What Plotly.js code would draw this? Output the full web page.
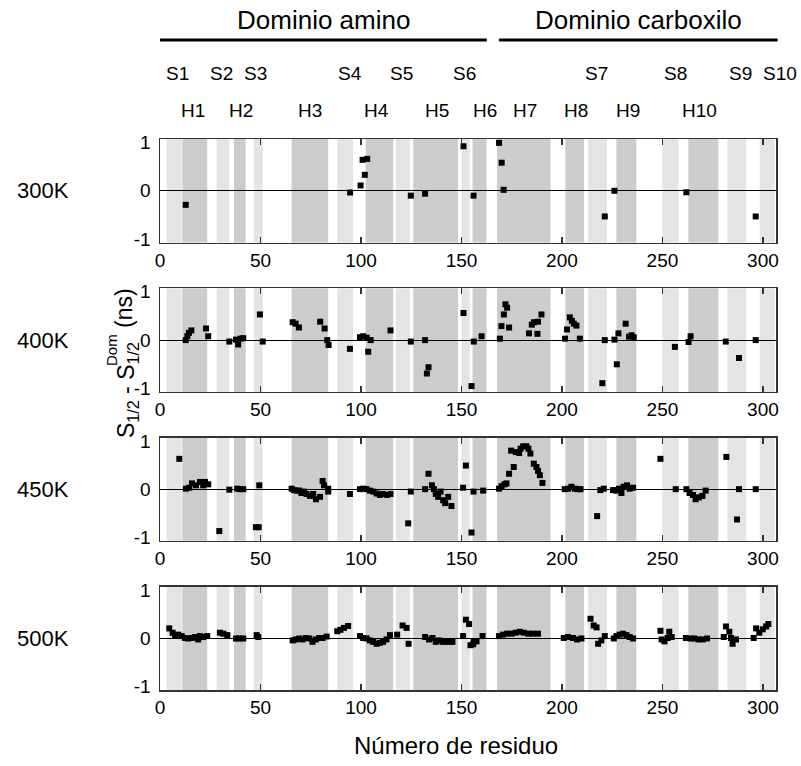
<!DOCTYPE html>
<html>
<head>
<meta charset="utf-8">
<script src="https://cdn.plot.ly/plotly-3.0.1.min.js"></script>
<style>html,body{margin:0;padding:0;background:#fff;}#chart{width:801px;height:766px;}</style>
</head>
<body>
<div id="chart"></div>
<script>
// ---- data ----
const temps = ['300K', '400K', '450K', '500K'];

const x300 = [12.8, 94.6, 99.8, 100.8, 101.9, 103.1, 124.8, 131.9, 151, 156, 168.7, 170, 171, 221.3, 226.1, 261.9, 296.4];
const y300 = [-0.29, -0.035, 0.11, 0.64, 0.33, 0.66, -0.10, -0.06, 0.92, -0.10, 0.99, 0.58, 0.02, -0.53, 0.0, -0.03, -0.53];

const x400 = [12.8,13.6,14.4,15.6,22.9,24,34.5,37.8,38.9,40.1,41.4,49.7,51.1,66,67.5,69.1,79.7,81.9,83.2,83.9,94.5,99.5,101.1,102.8,104.8,103.6,114.7,124.8,131.9,133.6,132.8,151,155,156.1,160,169.1,169.9,171.1,171.9,172.7,173.7,183.6,185,186.1,187.8,188.1,189.8,201.5,202.5,203.9,204.9,205.9,207.2,208.9,220.1,221.3,226.1,227.3,228.1,231.7,233.4,234.6,235.7,256.2,263,264,281.5,288.1,296.4];
const y400 = [0,0.08,0.15,0.2,0.24,0.08,-0.03,0.01,-0.09,0.03,0.04,0.53,-0.03,0.37,0.34,0.26,0.38,0.24,0,-0.1,-0.18,0.06,0.08,0.05,0,-0.24,0.2,-0.03,0,-0.56,-0.69,0.56,-0.95,-0.03,0.08,0.03,0.29,0.53,0.74,0.67,0.26,0.14,0.32,0.37,0.13,0.38,0.53,0.03,0.22,0.47,0.4,0.34,0.3,0.03,-0.89,0,0.01,-0.5,0.14,0.34,0.07,0.1,0.06,-0.14,-0.04,0.08,-0.03,-0.37,0];

const x450 = [9.6,12.9,14.6,15.9,17.9,19.9,21.5,22.4,24,29.5,34.5,38.4,39.8,41.4,49.4,47.7,49.1,65.5,66.6,68,69.3,70.4,71.6,72.9,74.6,76.2,77.6,79.6,80.9,81.6,83.7,83.7,94.5,99.5,101.1,102.8,104.4,106.1,107.8,109.4,111,113,114.7,123.5,124.8,131.9,133.6,135.3,136.3,137.2,138.4,139.6,140.9,141.9,143.4,145,150.8,152.2,155,156,160.8,168.7,170,171.4,172.4,173.7,174.7,176,177,178.7,179.4,180.7,182.3,183.3,184.3,186,187.3,188.1,189,190.3,201.4,203,204.7,206.4,208,209.2,217.5,219.1,220.8,225.4,227.1,228.4,229.6,230.7,232.4,233.7,235.4,249,256.6,261.9,263.5,265.2,266.5,268.2,269.9,271.5,281.8,287.1,288.1,296.4];
const y450 = [0.63,0.01,0.03,0.12,0.08,0.15,0.08,0.15,0.1,-0.87,-0.01,0.01,0,0,0.08,-0.79,-0.79,0.01,-0.02,-0.03,-0.03,-0.08,-0.05,-0.1,-0.14,-0.1,-0.21,-0.16,0.17,0.08,0.01,-0.05,-0.1,0,0.01,0,-0.03,-0.05,-0.09,-0.12,-0.1,-0.12,-0.1,-0.71,-0.05,0,0.32,0.08,0,-0.1,-0.16,-0.05,-0.23,-0.29,-0.16,-0.35,0.03,0.49,-0.9,-0.05,-0.03,0.01,0.06,0.1,0.12,0.32,0.8,0.46,0.77,0.75,0.84,0.89,0.89,0.84,0.74,0.53,0.46,0.38,0.29,0.13,0,0.01,0.05,0.01,0,0,-0.56,-0.02,0.01,-0.02,-0.03,0.01,-0.08,0.05,0.08,0.01,0.03,0.63,0,0,-0.08,-0.12,-0.21,-0.17,-0.14,-0.03,0.67,-0.63,0,0];

const x500 = [4.6,6.3,7.5,9.1,10.8,12.4,14.1,15.8,17.4,19,19.9,21.5,23.5,29.8,31.5,33.5,37.8,39.4,41.4,48.1,48.9,66,67.6,69.3,70.9,72.6,74.3,75.9,77.6,79.2,80.9,82.9,88.2,89.8,91.5,93.6,99.5,101.1,102.8,104.4,106.1,107.8,109.4,111,112.7,114.4,118,120.7,122.7,123.7,131.9,133.9,135.6,137.2,138.9,140.6,142.2,143.9,145.5,150.8,152.2,153.8,154.5,156.1,155.8,157.5,160.5,168.7,170.7,172.7,174.9,177,179,181,183.2,185.6,188.1,200.9,203,205.5,207.5,209.7,214.2,215.8,217.2,218,219.6,221.3,225.8,227.1,228.7,230.4,232.1,233.7,235.4,249,249.6,251,252.6,253.4,254.6,261.7,263.9,265.9,267.9,270,272.2,280.5,281.6,283.3,284.1,284.9,286.6,295.4,296.6,298.2,299.9,301.6,302.7];
const y500 = [0.21,0.12,0.07,0.08,0.05,0.01,0,0.01,0.03,-0.02,0.05,0.03,0.05,0.12,0.1,0.07,0,0,0,0.07,0.03,-0.04,-0.02,0,-0.02,0.01,0,-0.07,-0.02,0.01,0.01,0.04,0.15,0.18,0.22,0.26,0.05,0.01,0,-0.04,-0.07,-0.11,-0.09,-0.07,-0.02,0.07,0.08,0.27,0.22,-0.11,0.03,-0.02,0.01,-0.07,-0.04,-0.07,-0.07,-0.07,-0.07,0.05,0.39,0.3,-0.14,-0.06,-0.12,-0.06,0.05,0.05,0.08,0.1,0.1,0.12,0.14,0.12,0.1,0.1,0.1,0.01,0.03,0.01,-0.02,0,0.41,0.27,0.23,-0.11,-0.04,0.05,0,0.05,0.08,0.1,0.07,0.03,0,0.16,-0.02,-0.06,0.01,0.14,0.03,0.01,0,0,-0.02,-0.02,0,0.03,0.25,0.14,0.01,-0.11,-0.02,0.01,0.21,0.12,0.19,0.25,0.3];

// secondary-structure bands (residue ranges): S = strand (light), H = helix (dark)
const bandStart = [3.3, 11.1, 28.2, 36.8, 46.7, 65.5, 88.2, 102.3, 117.4, 126, 150, 155.5, 167.7, 201.7, 213, 227.1, 250, 262.9, 282.3, 298.4];
const bandEnd   = [10.8, 23.5, 34.5, 42.6, 51.1, 83.7, 96.1, 116, 124.3, 148.3, 154.2, 162.5, 194.3, 211, 222.4, 237, 258, 277.8, 291.7, 305.8];
const bandKind  = ['S','H','S','H','S','H','S','H','S','H','S','H','H','H','S','H','S','H','S','S'];

// element labels (residue position of each label)
const sLabels = ['S1','S2','S3','S4','S5','S6','S7','S8','S9','S10'];
const sLabelX = [8.5, 30.8, 47.7, 94.5, 120.3, 151.7, 217.3, 256.6, 288.9, 308.3];
const hLabels = ['H1','H2','H3','H4','H5','H6','H7','H8','H9','H10'];
const hLabelX = [16.4, 40.3, 74.6, 107.9, 137.7, 161.6, 181.5, 206.9, 232.7, 268.5];

// domains
const domainNames = ['Dominio amino', 'Dominio carboxilo'];
const domainStart = [0, 168.6];
const domainEnd = [162.6, 307.3];

const xTicks = [0, 50, 100, 150, 200, 250, 300];
const yTicks = [-1, 0, 1];

// ---- figure ----
const xMax = 306.5;
const FONT = 'Liberation Sans, Arial, Helvetica, sans-serif';
const H = 766, mT = 139, mB = 76;
const plotH = H - mT - mB;
const py = p => (H - mB - p) / plotH;          // pixel row -> paper y
const px = v => v / xMax;                      // residue -> paper x
const pxx = p => (p - 160) / 616;              // pixel column -> paper x

const series = [[x300, y300], [x400, y400], [x450, y450], [x500, y500]];
const domains = [[0.812, 1.0], [0.541, 0.729], [0.271, 0.458], [0.0, 0.187]];

const data = [];
const layout = {
  width: 801, height: 766,
  margin: {l: 160, r: 25, t: mT, b: mB},
  paper_bgcolor: '#fff', plot_bgcolor: 'rgba(0,0,0,0)',
  showlegend: false,
  font: {family: FONT, color: '#000', size: 19},
  shapes: [], annotations: []
};

series.forEach((s, i) => {
  const n = i + 1;
  const xa = 'x' + (n === 1 ? '' : n), ya = 'y' + (n === 1 ? '' : n);
  data.push({
    type: 'scatter', mode: 'markers', x: s[0], y: s[1],
    xaxis: xa, yaxis: ya,
    marker: {symbol: 'square', size: 6, color: '#000'},
    cliponaxis: false, hoverinfo: 'x+y'
  });
  layout['xaxis' + (n === 1 ? '' : n)] = {
    anchor: ya, range: [0, xMax], tickvals: xTicks, ticktext: xTicks.map(String),
    ticks: 'inside', ticklen: 6, tickwidth: 1.2, tickcolor: '#333',
    showline: true, linecolor: '#333', linewidth: 1.5, mirror: 'ticks',
    showgrid: false, zeroline: false, tickfont: {size: 19, family: FONT},
    fixedrange: true
  };
  layout['yaxis' + (n === 1 ? '' : n)] = {
    anchor: xa, domain: domains[i], range: [-1.07, 1.07], tickvals: yTicks,
    ticktext: yTicks.map(String), ticks: '', showline: true, linecolor: '#333',
    linewidth: 1.5, mirror: true, showgrid: false,
    zeroline: true, zerolinecolor: '#000', zerolinewidth: 1.2,
    tickfont: {size: 19, family: FONT}, ticklabelstandoff: 4, fixedrange: true
  };
  bandStart.forEach((b0, k) => {
    layout.shapes.push({
      type: 'rect', xref: xa, yref: ya + ' domain', x0: b0, x1: bandEnd[k], y0: 0, y1: 1,
      fillcolor: bandKind[k] === 'S' ? '#e4e4e4' : '#cccccc', line: {width: 0}, layer: 'below'
    });
  });
  layout.annotations.push({
    text: temps[i], xref: 'paper', yref: ya, x: pxx(43), y: 0,
    xanchor: 'center', yanchor: 'middle', showarrow: false, font: {size: 22, family: FONT}
  });
});

// domain labels and bars
domainNames.forEach((d, i) => {
  layout.shapes.push({type: 'line', xref: 'paper', yref: 'paper',
    x0: px(domainStart[i]), x1: px(domainEnd[i]), y0: py(40), y1: py(40),
    line: {color: '#000', width: 3}});
  layout.annotations.push({text: d, xref: 'paper', yref: 'paper',
    x: px((domainStart[i] + domainEnd[i]) / 2), y: py(20), xanchor: 'center', yanchor: 'middle',
    showarrow: false, font: {size: 26, family: FONT}});
});
sLabels.forEach((t, i) => layout.annotations.push({text: t, xref: 'paper', yref: 'paper',
  x: px(sLabelX[i]), y: py(73), xanchor: 'center', yanchor: 'middle', showarrow: false,
  font: {size: 19, family: FONT}}));
hLabels.forEach((t, i) => layout.annotations.push({text: t, xref: 'paper', yref: 'paper',
  x: px(hLabelX[i]), y: py(111), xanchor: 'center', yanchor: 'middle', showarrow: false,
  font: {size: 19, family: FONT}}));

// x title
layout.annotations.push({text: 'Número de residuo', xref: 'paper', yref: 'paper',
  x: pxx(456), y: py(745), xanchor: 'center', yanchor: 'middle', showarrow: false,
  font: {size: 24, family: FONT}});

// y title (pieces so the sub/superscript stack)
layout.annotations.push({text: 'S<sub>1/2</sub> - S<sub>1/2</sub>', xref: 'paper', yref: 'paper',
  x: pxx(127), y: py(390), xanchor: 'center', yanchor: 'middle', textangle: -90, showarrow: false,
  font: {size: 23, family: FONT}});
layout.annotations.push({text: 'Dom', xref: 'paper', yref: 'paper',
  x: pxx(111), y: py(350), xanchor: 'center', yanchor: 'middle', textangle: -90, showarrow: false,
  font: {size: 15, family: FONT}});
layout.annotations.push({text: '(ns)', xref: 'paper', yref: 'paper',
  x: pxx(124), y: py(308), xanchor: 'center', yanchor: 'middle', textangle: -90, showarrow: false,
  font: {size: 23, family: FONT}});

Plotly.newPlot('chart', data, layout, {displayModeBar: false, staticPlot: true});
</script>
</body>
</html>
